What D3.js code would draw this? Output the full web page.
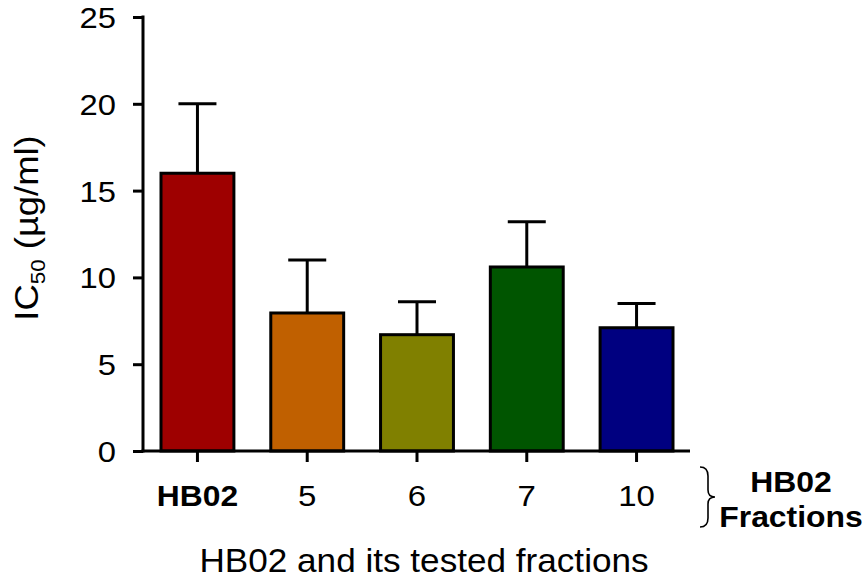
<!DOCTYPE html>
<html><head><meta charset="utf-8">
<script src="https://cdn.jsdelivr.net/npm/d3@7"></script>
<style>body{margin:0;background:#fff}svg{display:block}text{font-family:"Liberation Sans",Arial,sans-serif;fill:#000}</style>
</head><body>
<svg id="c" width="867" height="578"></svg>
<script>
const categories = ["HB02","5","6","7","10"];
const values = [16.0, 7.95, 6.7, 10.6, 7.1];
const errors = [4.0, 3.05, 1.9, 2.6, 1.4];
const colors = ["#9e0000","#c06000","#808000","#005500","#000080"];
const yTicks = [0,5,10,15,20,25];

const svg = d3.select("#c");
const y = d3.scaleLinear().domain([0,25]).range([451,17]);
const x = d3.scaleBand().domain(categories).range([161,673]).paddingInner(0.336).paddingOuter(0);

// bars
svg.selectAll("rect.bar").data(categories).enter().append("rect")
  .attr("x", d=>x(d)).attr("y", (d,i)=>y(values[i]))
  .attr("width", x.bandwidth()).attr("height", (d,i)=>y(0)-y(values[i]))
  .attr("fill",(d,i)=>colors[i]).attr("stroke","#000").attr("stroke-width",3);

// error bars
const cap = 38;
categories.forEach((d,i)=>{
  const cx = x(d)+x.bandwidth()/2;
  svg.append("line").attr("x1",cx).attr("x2",cx).attr("y1",y(values[i])).attr("y2",y(values[i]+errors[i]))
    .attr("stroke","#000").attr("stroke-width",3);
  svg.append("line").attr("x1",cx-cap/2).attr("x2",cx+cap/2).attr("y1",y(values[i]+errors[i])).attr("y2",y(values[i]+errors[i]))
    .attr("stroke","#000").attr("stroke-width",3);
});

// y axis
const yAxis = d3.axisLeft(y).tickValues(yTicks).tickSize(10).tickPadding(14).tickSizeOuter(0);
const gy = svg.append("g").attr("transform","translate(143,0)").call(yAxis);
gy.select(".domain").remove();
gy.selectAll(".tick line").attr("stroke","#000").attr("stroke-width",3);
gy.selectAll(".tick text").style("font-size","29px").attr("dy","0.36em").attr("transform","scale(1.13,1)");
svg.append("line").attr("x1",143).attr("x2",143).attr("y1",y(25)-1.5).attr("y2",y(0)+1.5).attr("stroke","#000").attr("stroke-width",3);

// x axis
const xAxis = d3.axisBottom(x).tickSize(11).tickPadding(23).tickSizeOuter(0);
const gx = svg.append("g").attr("transform","translate(0,451)").call(xAxis);
gx.select(".domain").remove();
gx.selectAll(".tick line").attr("stroke","#000").attr("stroke-width",3);
gx.selectAll(".tick text").style("font-size","30px").attr("dy","0.71em")
  .style("font-weight",d=>d==="HB02"?"bold":"normal")
  .attr("transform",d=>d==="HB02"?"scale(1.06,1)":"scale(1.1,1)");
svg.append("line").attr("x1",141.5).attr("x2",690).attr("y1",451).attr("y2",451).attr("stroke","#000").attr("stroke-width",3);

// y title
const yt = svg.append("text").attr("transform","translate(38,228) rotate(-90) scale(1.07,1)").attr("text-anchor","middle").style("font-size","34px");
yt.append("tspan").text("IC");
yt.append("tspan").text("50").style("font-size","21px").attr("dy","7");
yt.append("tspan").text(" (µg/ml)").attr("dy","-7");

// x title
svg.append("text").attr("transform","translate(424,572) scale(1.065,1)").attr("text-anchor","middle").style("font-size","33px").text("HB02 and its tested fractions");

// brace
svg.append("path").attr("d","M700,467 Q708,467 708,476 L708,490 Q708,497 715,497 Q708,497 708,504 L708,518 Q708,527 700,527")
  .attr("fill","none").attr("stroke","#000").attr("stroke-width",1.6);
svg.append("text").attr("transform","translate(791,492) scale(1.1,1)").attr("text-anchor","middle").style("font-size","29px").style("font-weight","bold").text("HB02");
svg.append("text").attr("transform","translate(791,527) scale(1.1,1)").attr("text-anchor","middle").style("font-size","29px").style("font-weight","bold").text("Fractions");
</script>
</body></html>
